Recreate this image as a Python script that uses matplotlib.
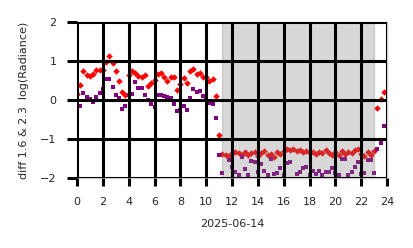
import numpy as np
import matplotlib
matplotlib.use('Agg')
import matplotlib.pyplot as plt

# hours of day, one sample every 15 min
hours = np.arange(96) * 0.25

# difference of log radiance, 1.6 um channel
diff_16 = [
    0.15, 0.38, 0.75, 0.65, 0.62, 0.68, 0.78, 0.76,
    0.78, 0.98, 1.13, 0.95, 0.75, 0.50, 0.20, 0.12,
    0.65, 0.74, 0.70, 0.62, 0.60, 0.65, 0.36, 0.45,
    0.52, 0.66, 0.70, 0.60, 0.50, 0.58, 0.60, 0.27,
    0.42, 0.56, 0.45, 0.75, 0.80, 0.68, 0.70, 0.60,
    0.58, 0.48, 0.55, 0.10, -0.90, -1.38, -1.42, -1.43,
    -1.36, -1.32, -1.35, -1.40, -1.34, -1.42, -1.37, -1.33,
    -1.44, -1.36, -1.30, -1.41, -1.38, -1.45, -1.33, -1.38,
    -1.30, -1.26, -1.29, -1.25, -1.31, -1.28, -1.34, -1.30,
    -1.36, -1.33, -1.38, -1.32, -1.35, -1.29, -1.37, -1.40,
    -1.34, -1.42, -1.31, -1.38, -1.33, -1.36, -1.28, -1.25,
    -1.38, -1.43, -1.34, -1.41, -1.30, -0.20, 0.03, 0.20,
]

# difference of log radiance, 2.3 um channel
diff_23 = [
    -0.43, -0.15, 0.19, 0.08, 0.04, -0.04, 0.08, 0.18,
    0.28, 0.53, 0.53, 0.33, 0.13, 0.05, -0.22, -0.15,
    0.12, 0.15, 0.47, 0.30, 0.32, 0.13, 0.00, -0.10,
    -0.19, 0.14, 0.13, 0.10, 0.08, 0.05, -0.10, -0.28,
    -0.26, -0.15, -0.26, 0.05, 0.28, 0.21, 0.24, 0.10,
    0.08, -0.08, -0.10, -0.45, -1.41, -1.88, -2.05, -1.54,
    -1.72, -1.84, -1.92, -1.47, -1.76, -1.91, -1.56, -1.60,
    -1.84, -1.65, -1.82, -1.91, -1.52, -1.90, -1.87, -1.75,
    -1.93, -1.62, -1.58, -2.10, -1.90, -1.84, -1.75, -1.71,
    -1.91, -1.82, -1.89, -1.81, -1.92, -1.84, -1.84, -1.75,
    -1.88, -1.93, -1.50, -1.50, -1.92, -1.84, -1.71, -1.58,
    -1.90, -1.86, -1.54, -1.54, -1.88, -1.26, -1.11, -0.67,
]

# shaded interval (hours)
night_start, night_end = 11.25, 23.0

x_ticks = np.arange(0, 25, 2)
y_ticks = np.arange(-2, 3, 1)


def main():
    fig = plt.figure(figsize=(4.14, 2.48), dpi=100)
    ax = fig.add_axes([0.186, 0.282, 0.749, 0.629])

    ax.plot(hours, diff_16, ls='none', marker='D', ms=3.3, mew=0,
            color='red', zorder=2)
    ax.plot(hours, diff_23, ls='none', marker='s', ms=3.2, mew=0,
            color='purple', zorder=2.05)
    ax.axvspan(night_start, night_end, color='gray', alpha=0.3, zorder=2.2)

    ax.set_xlim(0, 24)
    ax.set_ylim(-2, 2)
    ax.set_xticks(x_ticks)
    ax.set_yticks(y_ticks)

    ax.set_axisbelow(False)
    ax.grid(True, color='black', lw=2.2)
    ax.tick_params(width=2.2, color='black', labelsize=8, labelcolor='0.15')
    ax.tick_params(axis='x', length=5.8, pad=7.6)
    ax.tick_params(axis='y', length=7.2, pad=7.6)
    for sp in ax.spines.values():
        sp.set_color('0.8')
        sp.set_linewidth(1.0)

    ax.set_xlabel('2025-06-14', fontsize=8, color='0.15', labelpad=9)
    ax.set_ylabel('diff 1.6 & 2.3  log(Radiance)', fontsize=8,
                  color='0.15', labelpad=7.7)

    fig.savefig('out.png', dpi=100)
    plt.close(fig)


if __name__ == '__main__':
    main()
